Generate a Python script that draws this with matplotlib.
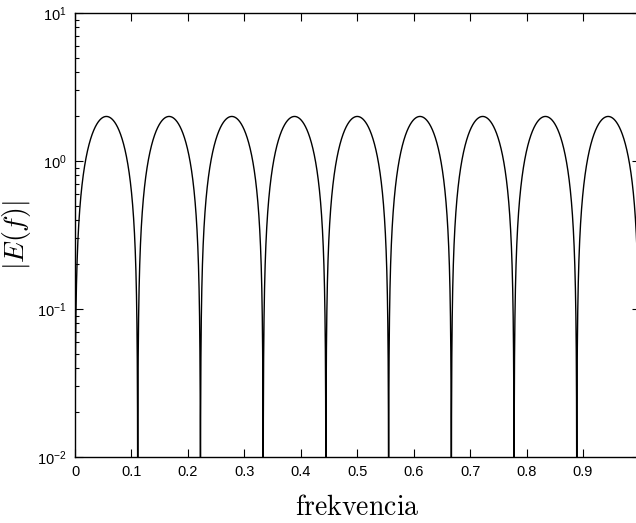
import matplotlib
matplotlib.use('Agg')
import matplotlib.pyplot as plt
import numpy as np

# comb filter response |E(f)| = |1 - exp(-j*2*pi*f*delay)|
delay = 9              # delay in samples (zeros at k/9)
gain = 2.0             # peak value of |E(f)|
f_range = [0.0, 1.0]
y_range = [1e-2, 1e1]
x_ticks = [0, 0.1, 0.2, 0.3, 0.4, 0.5, 0.6, 0.7, 0.8, 0.9, 1]
x_ticklabels = ['0', '0.1', '0.2', '0.3', '0.4', '0.5', '0.6', '0.7', '0.8', '0.9', '1']
y_ticks = [1e-2, 1e-1, 1e0, 1e1]

plt.rcParams['font.family'] = ['Liberation Sans', 'DejaVu Sans']
plt.rcParams['mathtext.fontset'] = 'cm'

f = np.linspace(f_range[0], f_range[1], 20001)
E = np.abs(gain * np.sin(np.pi * delay * f))
E = np.maximum(E, 1e-6)

W, H = 636, 523
fig = plt.figure(figsize=(W / 100, H / 100), dpi=100)
ax = fig.add_axes([75 / W, 1 - 457 / H, (639.5 - 75) / W, (457 - 13) / H])

ax.plot(f, E, color='black', linewidth=1.0)
ax.set_yscale('log')
ax.set_xlim(f_range)
ax.set_ylim(y_range)
ax.set_xticks(x_ticks)
ax.set_xticklabels(x_ticklabels)
ax.set_yticks(y_ticks)

ax.tick_params(which='both', direction='in', top=True, right=True,
               labelsize=10.5, width=0.8, pad=6)
ax.tick_params(which='major', length=6)
ax.tick_params(which='minor', length=3)
for s in ax.spines.values():
  s.set_linewidth(1.0)

ax.set_xlabel(r'$\mathrm{frekvencia}$', fontsize=20, labelpad=11)
ax.set_ylabel(r'$|E(f)|$', fontsize=20, labelpad=3)

fig.savefig('out.png', dpi=100)
